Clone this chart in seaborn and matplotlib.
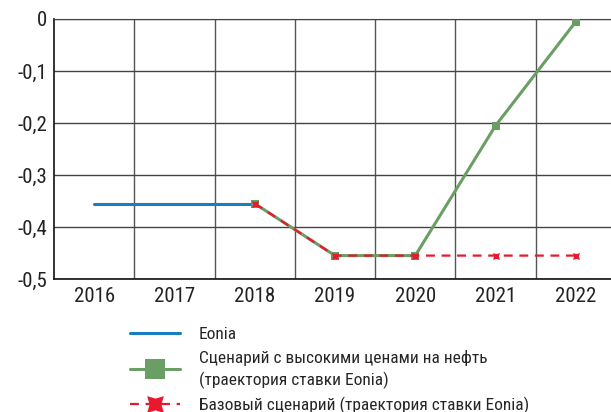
import numpy as np
import pandas as pd
import matplotlib
matplotlib.use("Agg")
import matplotlib.pyplot as plt
from matplotlib.lines import Line2D
from matplotlib.ticker import FixedLocator, FuncFormatter
import seaborn as sns

# ── Data ───────────────────────────────────────────────────────────────────────
YEARS_EONIA = [2016, 2017, 2018]
EONIA       = [-0.355, -0.355, -0.355]

YEARS_SCEN  = [2018, 2019, 2020, 2021, 2022]
HIGH_OIL    = [-0.355, -0.455, -0.455, -0.205, -0.005]
BASE        = [-0.355, -0.455, -0.455, -0.455, -0.455]

LABELS = [
    "Eonia",
    "Сценарий с высокими ценами на нефть\n(траектория ставки Eonia)",
    "Базовый сценарий (траектория ставки Eonia)",
]

COL_BLUE  = "#1a7cc1"
COL_GREEN = "#6a9e64"
COL_RED   = "#e8192c"

sns.set_style("white")
plt.rcParams["font.family"] = ["Roboto Condensed", "DejaVu Sans"]

df_eonia = pd.DataFrame({"year": YEARS_EONIA, "value": EONIA})
df_high  = pd.DataFrame({"year": YEARS_SCEN, "value": HIGH_OIL})
df_base  = pd.DataFrame({"year": YEARS_SCEN, "value": BASE})

fig = plt.figure(figsize=(6.11, 4.12), dpi=100)
ax = fig.add_axes([54 / 611, 133 / 412, 562 / 611, 260 / 412])

sns.lineplot(data=df_eonia, x="year", y="value", ax=ax, color=COL_BLUE,
             lw=2.2, zorder=3)
sns.lineplot(data=df_high, x="year", y="value", ax=ax, color=COL_GREEN,
             lw=2.2, marker="s", markersize=6, markeredgewidth=0, zorder=4)
sns.lineplot(data=df_base, x="year", y="value", ax=ax, color=COL_RED,
             lw=1.6, dashes=(4, 3), marker=(4, 1, 45), markersize=7,
             markeredgewidth=0, zorder=5)

ax.set_xlim(2015.5, 2022.5)
ax.set_ylim(-0.5, 0)
ax.set_xticks(range(2016, 2023))
ax.xaxis.set_minor_locator(FixedLocator(np.arange(2016.5, 2022.5, 1)))
ax.set_yticks(np.arange(-0.5, 0.01, 0.1))
ax.yaxis.set_major_formatter(FuncFormatter(
    lambda v, p: "0" if abs(v) < 1e-9 else f"{v:.1f}".replace(".", ",")))

ax.grid(False)
ax.yaxis.grid(True, which="major", color="#444444", lw=1)
ax.xaxis.grid(True, which="minor", color="#555555", lw=1)
ax.tick_params(axis="both", which="both", length=0, labelsize=15, colors="#222222")
ax.tick_params(axis="x", pad=6)
ax.tick_params(axis="y", pad=5)
ax.set_xlabel("")
ax.set_ylabel("")
for side in ["left", "bottom"]:
    ax.spines[side].set_color("#111111")
    ax.spines[side].set_linewidth(1.2)
ax.spines["top"].set_color("#444444")
ax.spines["right"].set_visible(False)

# ── Legend ─────────────────────────────────────────────────────────────────────
handles = [
    Line2D([], [], color=COL_BLUE, lw=2.2),
    Line2D([], [], color=COL_GREEN, lw=2.2, marker="s", markersize=15,
           markeredgewidth=0),
    Line2D([], [], color=COL_RED, lw=1.6, dashes=(4, 3), marker=(4, 1, 45),
           markersize=17, markeredgewidth=0),
]
leg = fig.legend(handles, LABELS, loc="upper left",
                 bbox_to_anchor=(130 / 611, 1 - 327 / 412),
                 frameon=False, fontsize=12.5, handlelength=2.9, handletextpad=1.05,
                 labelspacing=0.45, borderaxespad=0, borderpad=0)
for t in leg.get_texts():
    t.set_linespacing(1.4)

fig.savefig("out.png", dpi=100)
